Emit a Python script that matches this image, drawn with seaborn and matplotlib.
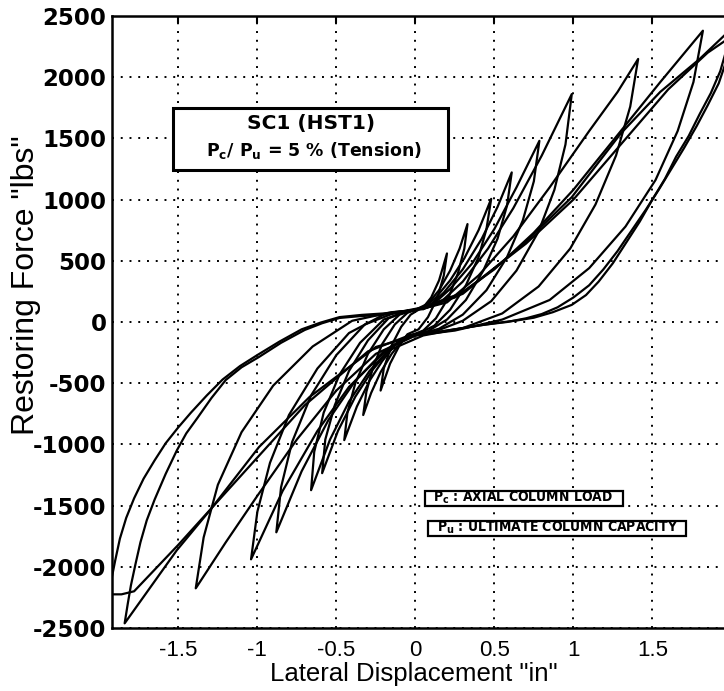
import matplotlib
matplotlib.use("Agg")
import matplotlib.pyplot as plt
from matplotlib.patches import Rectangle
import numpy as np
import pandas as pd
import seaborn as sns

# ---------------- data ----------------
loop1_x = [-0.05, 0.05, 0.10, 0.15, 0.20, 0.18, 0.14, 0.08, 0.02, -0.05, -0.10, -0.16, -0.22, -0.20, -0.15, -0.09, -0.03, 0.02]
loop1_y = [95, 120, 200, 340, 560, 380, 200, 40, -60, -100, -190, -340, -560, -380, -190, -40, 60, 100]

loop2_x = [0.00, 0.08, 0.15, 0.22, 0.28, 0.33, 0.31, 0.27, 0.21, 0.13, 0.05, -0.02, -0.08, -0.15, -0.22, -0.28, -0.33, -0.31, -0.27, -0.21, -0.13, -0.05, 0.00]
loop2_y = [100, 150, 260, 420, 600, 800, 600, 400, 200, 30, -70, -105, -150, -260, -410, -580, -760, -570, -380, -180, -20, 75, 100]

loop3_x = [0.00, 0.05, 0.13, 0.22, 0.31, 0.40, 0.48, 0.45, 0.40, 0.32, 0.22, 0.12, 0.02, -0.05, -0.13, -0.21, -0.29, -0.37, -0.45, -0.43, -0.38, -0.30, -0.20, -0.10, 0.00]
loop3_y = [100, 115, 200, 340, 520, 750, 1006, 760, 530, 300, 100, -30, -95, -110, -190, -320, -480, -690, -965, -740, -500, -260, -60, 60, 100]

loop4_x = [0.00, 0.08, 0.18, 0.30, 0.42, 0.52, 0.61, 0.58, 0.52, 0.43, 0.32, 0.20, 0.08, -0.05, -0.16, -0.27, -0.38, -0.49, -0.59, -0.57, -0.51, -0.42, -0.30, -0.17, -0.05, 0.02]
loop4_y = [100, 125, 240, 430, 680, 940, 1222, 950, 680, 420, 180, 20, -75, -115, -220, -390, -610, -890, -1235, -960, -680, -400, -150, 30, 90, 105]

loop5_x = [0.02, 0.10, 0.22, 0.36, 0.50, 0.64, 0.785, 0.75, 0.68, 0.58, 0.45, 0.30, 0.15, 0.00, -0.15, -0.29, -0.42, -0.54, -0.66, -0.64, -0.58, -0.48, -0.35, -0.20, -0.05, 0.05]
loop5_y = [105, 130, 270, 480, 760, 1100, 1480, 1150, 830, 530, 260, 60, -55, -110, -200, -400, -650, -960, -1374, -1060, -740, -430, -170, 20, 90, 110]

loop6_x = [0.05, 0.15, 0.30, 0.46, 0.62, 0.80, 0.99, 0.95, 0.88, 0.78, 0.64, 0.48, 0.30, 0.12, -0.05, -0.20, -0.38, -0.55, -0.72, -0.88, -0.85, -0.78, -0.66, -0.50, -0.32, -0.12, 0.05]
loop6_y = [110, 150, 330, 600, 930, 1360, 1862, 1450, 1080, 740, 420, 170, 10, -80, -115, -240, -480, -800, -1220, -1718, -1350, -980, -600, -270, -20, 80, 110]

loop7_x = [0.05, 0.20, 0.40, 0.62, 0.85, 1.10, 1.28, 1.41, 1.36, 1.27, 1.14, 0.98, 0.78, 0.55, 0.30, 0.05, -0.20, -0.42, -0.62, -0.84, -1.04, -1.00, -0.92, -0.80, -0.62, -0.42, -0.20, 0.00]
loop7_y = [110, 160, 380, 700, 1100, 1560, 1880, 2149, 1760, 1360, 960, 600, 290, 70, -50, -110, -250, -530, -890, -1380, -1939, -1550, -1150, -760, -380, -90, 60, 100]

loop8_x = [0.00, 0.25, 0.50, 0.75, 1.00, 1.30, 1.55, 1.82, 1.76, 1.66, 1.52, 1.33, 1.10, 0.85, 0.55, 0.25, 0.00, -0.25, -0.50, -0.75, -1.00, -1.20, -1.39, -1.34, -1.25, -1.10, -0.90, -0.65, -0.40, -0.15, 0.05]
loop8_y = [100, 200, 430, 730, 1080, 1560, 1960, 2380, 1960, 1560, 1160, 780, 440, 180, 20, -70, -110, -260, -560, -960, -1420, -1800, -2176, -1760, -1330, -900, -520, -200, 10, 80, 105]

loop9_x = [0.05, 0.30, 0.67, 0.99, 1.30, 1.55, 1.80, 2.02,
           1.97, 1.93, 1.87, 1.80, 1.73, 1.65, 1.58, 1.50, 1.42, 1.33, 1.25, 1.16, 1.08, 0.99, 0.87, 0.75, 0.64, 0.53, 0.42, 0.30, 0.15, 0.00,
           -0.25, -0.67, -0.99, -1.30, -1.51, -1.84,
           -1.82, -1.80, -1.77, -1.74, -1.70, -1.65, -1.58, -1.51, -1.45, -1.38, -1.29, -1.20, -1.10, -0.99, -0.85, -0.70, -0.59, -0.48, -0.35, -0.23, -0.10, 0.00]
loop9_y = [105, 230, 620, 1020, 1540, 1880, 2150, 2420,
           2230, 2050, 1870, 1700, 1520, 1350, 1170, 1000, 820, 640, 480, 330, 220, 140, 80, 35, 12, -5, -25, -50, -80, -110,
           -204, -613, -1022, -1538, -1865, -2462,
           -2300, -2150, -1970, -1800, -1620, -1450, -1240, -1050, -910, -785, -620, -474, -370, -286, -170, -65, -10, 33, 48, 57, 75, 98]

loop10_x = [0.00, 0.30, 0.70, 1.00, 1.30, 1.60, 1.85, 2.02,
            1.97, 1.92, 1.85, 1.78, 1.70, 1.62, 1.54, 1.46, 1.37, 1.28, 1.19, 1.10, 1.00, 0.90, 0.80, 0.70, 0.58, 0.45, 0.32, 0.20, 0.08, -0.05,
            -0.30, -0.70, -1.10, -1.50, -1.78, -1.86, -1.93,
            -1.92, -1.90, -1.87, -1.83, -1.78, -1.72, -1.65, -1.58, -1.50, -1.42, -1.32, -1.22, -1.11, -1.00, -0.86, -0.72, -0.60, -0.48, -0.34, -0.20, -0.10, 0.00]
loop10_y = [98, 240, 640, 1000, 1450, 1900, 2200, 2350,
            2140, 1950, 1770, 1600, 1420, 1250, 1080, 920, 750, 580, 430, 300, 200, 120, 65, 30, 0, -20, -45, -70, -95, -115,
            -240, -680, -1250, -1820, -2200, -2225, -2225,
            -2080, -1950, -1770, -1600, -1440, -1280, -1130, -990, -860, -740, -600, -470, -360, -270, -160, -60, -5, 40, 58, 70, 85, 100]

x_ticks = [-1.5, -1.0, -0.5, 0.0, 0.5, 1.0, 1.5]
x_tick_labels = ["-1.5", "-1", "-0.5", "0", "0.5", "1", "1.5"]
y_ticks = [2500, 2000, 1500, 1000, 500, 0, -500, -1000, -1500, -2000, -2500]
y_tick_labels = ["2500", "2000", "1500", "1000", "500", "0", "-500", "-1000", "-1500", "-2000", "-2500"]

title_line1 = "SC1 (HST1)"
title_line2 = r"P$_\mathbf{c}$/ P$_\mathbf{u}$ = 5 % (Tension)"
note1 = r"P$_\mathbf{c}$ : AXIAL COLUMN LOAD"
note2 = r"P$_\mathbf{u}$ : ULTIMATE COLUMN CAPACITY"

# ---------------- build frame ----------------
loops = [(loop1_x, loop1_y), (loop2_x, loop2_y), (loop3_x, loop3_y), (loop4_x, loop4_y),
         (loop5_x, loop5_y), (loop6_x, loop6_y), (loop7_x, loop7_y), (loop8_x, loop8_y),
         (loop9_x, loop9_y), (loop10_x, loop10_y)]
frames = []
for i, (lx, ly) in enumerate(loops):
    frames.append(pd.DataFrame({"disp": lx, "force": ly, "cycle": i}))
df = pd.concat(frames, ignore_index=True)

# ---------------- plot ----------------
sns.set_style("white")
plt.rcParams["font.family"] = ["Liberation Sans", "DejaVu Sans"]
plt.rcParams["mathtext.fontset"] = "dejavusans"
for key in ["text.color", "axes.labelcolor", "xtick.color", "ytick.color", "axes.edgecolor"]:
    plt.rcParams[key] = "black"

fig = plt.figure(figsize=(7.24, 6.91), dpi=100)
ax = fig.add_axes([112 / 724, 1 - 628 / 691, 612 / 724, 612 / 691])

sns.lineplot(data=df, x="disp", y="force", units="cycle", estimator=None, sort=False,
             color="black", linewidth=1.6, ax=ax, legend=False, zorder=3)

ax.set_xlim(-1.92, -1.92 + 612 / 158)
ax.set_ylim(-2500, 2500)
ax.set_xticks(x_ticks)
ax.set_xticklabels(x_tick_labels, fontsize=16, family="Liberation Sans")
ax.set_yticks(y_ticks)
ax.set_yticklabels(y_tick_labels, fontsize=16.5, family="DejaVu Sans", fontweight="bold")

ax.grid(True, color="black", linestyle=(0, (1, 3.5)), linewidth=1.4)
ax.set_axisbelow(True)
for s in ["left", "bottom", "top"]:
    ax.spines[s].set_linewidth(1.8)
    ax.spines[s].set_color("black")
ax.spines["right"].set_visible(False)
ax.tick_params(axis="both", direction="in", length=5, width=1.5, top=True, right=False,
               colors="black")
ax.tick_params(axis="x", pad=9)
ax.tick_params(axis="y", pad=4)

ax.set_xlabel('Lateral Displacement "in"', fontsize=18.5, family="Liberation Sans", color="black")
ax.set_ylabel('Restoring Force "lbs"', fontsize=23, family="Liberation Sans", color="black")
ax.xaxis.set_label_coords(0.493, -0.055)
ax.yaxis.set_label_coords(-0.116, 0.56)

# annotation boxes
ax.add_patch(Rectangle((-1.532, 1242), 1.741, 506, facecolor="white", edgecolor="black",
                       linewidth=2.2, zorder=4))
ax.text(-0.66, 1625, title_line1, ha="center", va="center", fontsize=14.5,
        family="DejaVu Sans", fontweight="bold", color="black", zorder=5)
ax.text(-0.64, 1405, title_line2, ha="center", va="center", fontsize=12.5,
        family="DejaVu Sans", fontweight="bold", color="black", zorder=5)

ax.add_patch(Rectangle((0.063, -1503), 1.253, 122, facecolor="white", edgecolor="black",
                       linewidth=1.6, zorder=4))
ax.text(0.114, -1440, note1, ha="left", va="center", fontsize=10.0,
        family="DejaVu Sans", fontweight="bold", fontstretch="condensed", color="black", zorder=5)
ax.add_patch(Rectangle((0.082, -1748), 1.633, 122, facecolor="white", edgecolor="black",
                       linewidth=1.6, zorder=4))
ax.text(0.139, -1685, note2, ha="left", va="center", fontsize=10.0,
        family="DejaVu Sans", fontweight="bold", fontstretch="condensed", color="black", zorder=5)

fig.savefig("out.png", dpi=100)
